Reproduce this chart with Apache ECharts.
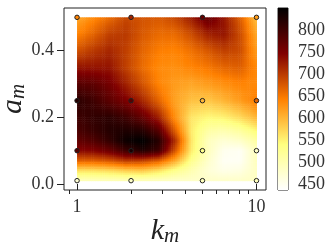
<!DOCTYPE html>
<html><head><meta charset="utf-8">
<style>html,body{margin:0;padding:0;background:#fff}#c{width:332px;height:249px}</style>
<script src="https://cdn.jsdelivr.net/npm/echarts@6/dist/echarts.min.js"></script>
</head><body><div id="c"></div>
<script>
const kGrid=[1,1.23,1.52,1.87,2.31,2.85,3.51,4.33,5.34,6.58,8.11,10];
const aGrid=[0.5,0.45,0.4,0.35,0.3,0.25,0.2,0.16,0.13,0.1,0.07,0.04,0.01];
const row050=[610,635,660,690,680,675,690,725,770,730,670,590];
const row045=[640,665,695,700,675,660,660,685,720,730,685,610];
const row040=[680,700,715,695,665,645,640,655,675,695,685,620];
const row035=[730,730,730,695,660,635,630,640,650,665,670,635];
const row030=[780,775,755,720,680,640,620,612,620,630,640,635];
const row025=[815,800,775,750,715,665,615,590,585,600,620,645];
const row020=[800,810,815,800,770,720,630,560,545,550,570,600];
const row016=[790,805,820,825,820,780,670,555,510,500,515,545];
const row013=[770,785,810,840,850,820,710,560,490,470,480,510];
const row010=[740,745,765,800,825,800,680,555,490,450,445,490];
const row007=[670,670,680,700,695,670,610,530,480,445,445,490];
const row004=[565,565,570,580,585,565,530,500,470,455,460,485];
const row001=[490,490,490,490,490,485,480,480,480,480,480,485];
const rows=[row050,row045,row040,row035,row030,row025,row020,row016,row013,row010,row007,row004,row001];
const ptK=[1,2,5,10];
const ptA=[0.5,0.25,0.1,0.01];
const ptVals=[[640,720,770,620],[820,780,600,670],[780,830,530,480],[470,480,490,490]];
const cbTicks=[450,500,550,600,650,700,750,800];
const cMin=436,cMax=850;
const cmapStops=[[255,255,255],[255,255,128],[255,128,0],[128,0,0],[0,0,0]];
const xMajor=[1,10];
const xMinor=[0.9,2,3,4,5,6,7,8,9];
const yTicks=[0,0.2,0.4];
function col(v){
  let t=Math.max(0,Math.min(1,(v-cMin)/(cMax-cMin)))*(cmapStops.length-1);
  let i=Math.min(cmapStops.length-2,Math.floor(t)),f=t-i;
  let a=cmapStops[i],b=cmapStops[i+1];
  return 'rgb('+[0,1,2].map(c=>Math.round(a[c]+(b[c]-a[c])*f)).join(',')+')';
}
const cells=[];
for(let r=0;r<aGrid.length-1;r++)for(let c=0;c<kGrid.length-1;c++)cells.push([c,r]);
const points=[];
ptA.forEach((a,r)=>ptK.forEach((k,c)=>points.push([k,a,ptVals[r][c]])));
const F='"Liberation Serif",serif',TC='#333';
const chart=echarts.init(document.getElementById('c'),null,{renderer:'canvas'});
function renderCell(p,api){
  const c=api.value(0),r=api.value(1);
  const p0=api.coord([kGrid[c],aGrid[r]]),p1=api.coord([kGrid[c+1],aGrid[r+1]]);
  const w=p1[0]-p0[0],h=p1[1]-p0[1];
  const nx=Math.ceil(w/2),ny=Math.ceil(h/2),ch=[];
  const v00=rows[r][c],v10=rows[r][c+1],v01=rows[r+1][c],v11=rows[r+1][c+1];
  for(let j=0;j<ny;j++)for(let i=0;i<nx;i++){
    const u=(i+.5)/nx,t=(j+.5)/ny;
    const v=(v00*(1-u)+v10*u)*(1-t)+(v01*(1-u)+v11*u)*t;
    ch.push({type:'rect',shape:{x:p0[0]+i*w/nx,y:p0[1]+j*h/ny,width:w/nx+.5,height:h/ny+.5},style:{fill:col(v)}});
  }
  return {type:'group',children:ch};
}
chart.setOption({
  animation:false,
  backgroundColor:'#fff',
  grid:[
    {left:64,top:8,width:202,height:182,outerBoundsMode:'none',containLabel:false,show:true,borderColor:'#222',borderWidth:1,backgroundColor:'#fff'},
    {left:278,top:8,width:10,height:182,outerBoundsMode:'none',containLabel:false,show:true,borderColor:'#222',borderWidth:1}
  ],
  xAxis:[
    {gridIndex:0,type:'log',min:0.846,max:11.3,position:'bottom',name:'{b|k}{s|m}',nameLocation:'middle',nameGap:26,nameMoveOverlap:false,
     nameTextStyle:{rich:{b:{fontFamily:F,fontStyle:'italic',fontSize:30,height:30,lineHeight:30,color:'#222'},s:{fontFamily:F,fontStyle:'italic',fontSize:21,color:'#222',padding:[10,0,0,0]}}},
     axisLine:{show:false},splitLine:{show:false},minorTick:{show:false},minorSplitLine:{show:false},
     axisTick:{show:true,length:6,inside:false,lineStyle:{color:'#222',width:1},customValues:xMajor},
     axisLabel:{show:true,fontFamily:F,fontSize:18,color:TC,margin:8,customValues:xMajor,formatter:v=>String(v)}},
    {gridIndex:0,type:'log',min:0.846,max:11.3,position:'bottom',
     axisLine:{show:false},splitLine:{show:false},
     axisTick:{show:true,length:4,lineStyle:{color:'#222',width:1},customValues:xMinor},
     axisLabel:{show:false}},
    {gridIndex:1,type:'value',min:0,max:1,show:false}
  ],
  yAxis:[
    {gridIndex:0,type:'value',min:-0.018,max:0.528,name:'{b|a}{s|m}',nameLocation:'middle',nameGap:35,nameRotate:90,nameMoveOverlap:false,
     nameTextStyle:{rich:{b:{fontFamily:F,fontStyle:'italic',fontSize:30,height:30,lineHeight:30,color:'#222'},s:{fontFamily:F,fontStyle:'italic',fontSize:21,color:'#222',padding:[10,0,0,0]}}},
     axisLine:{show:false},splitLine:{show:false},
     axisTick:{show:true,length:7,lineStyle:{color:'#222',width:1},customValues:yTicks},
     axisLabel:{fontFamily:F,fontSize:18,color:TC,margin:10,customValues:yTicks,formatter:v=>v.toFixed(1)}},
    {gridIndex:1,type:'value',position:'right',min:cMin,max:cMax,
     axisLine:{show:false},splitLine:{show:false},
     axisTick:{show:true,length:7,lineStyle:{color:'#222',width:1},customValues:cbTicks},
     axisLabel:{fontFamily:F,fontSize:18,color:TC,margin:10,customValues:cbTicks,formatter:v=>String(v)}}
  ],
  series:[
    {type:'custom',xAxisIndex:0,yAxisIndex:0,coordinateSystem:'cartesian2d',clip:true,z:1,silent:true,
     data:cells,encode:{x:-1,y:-1},renderItem:renderCell},
    {type:'scatter',xAxisIndex:0,yAxisIndex:0,clip:false,z:5,silent:true,symbol:'circle',symbolSize:4.5,data:points,
     itemStyle:{color:p=>col(p.value[2]),borderColor:'#222',borderWidth:1,opacity:1}},
    {type:'custom',xAxisIndex:2,yAxisIndex:1,coordinateSystem:'cartesian2d',z:1,silent:true,data:[[0,cMin,1,cMax]],
     renderItem(p,api){
       const a=api.coord([0,cMax]),b=api.coord([1,cMin]);
       return {type:'rect',shape:{x:a[0],y:a[1],width:b[0]-a[0],height:b[1]-a[1]},
        style:{fill:new echarts.graphic.LinearGradient(0,1,0,0,cmapStops.map((s,i)=>({offset:i/(cmapStops.length-1),color:'rgb('+s.join(',')+')'})))}};
     }}
  ]
});
</script></body></html>
